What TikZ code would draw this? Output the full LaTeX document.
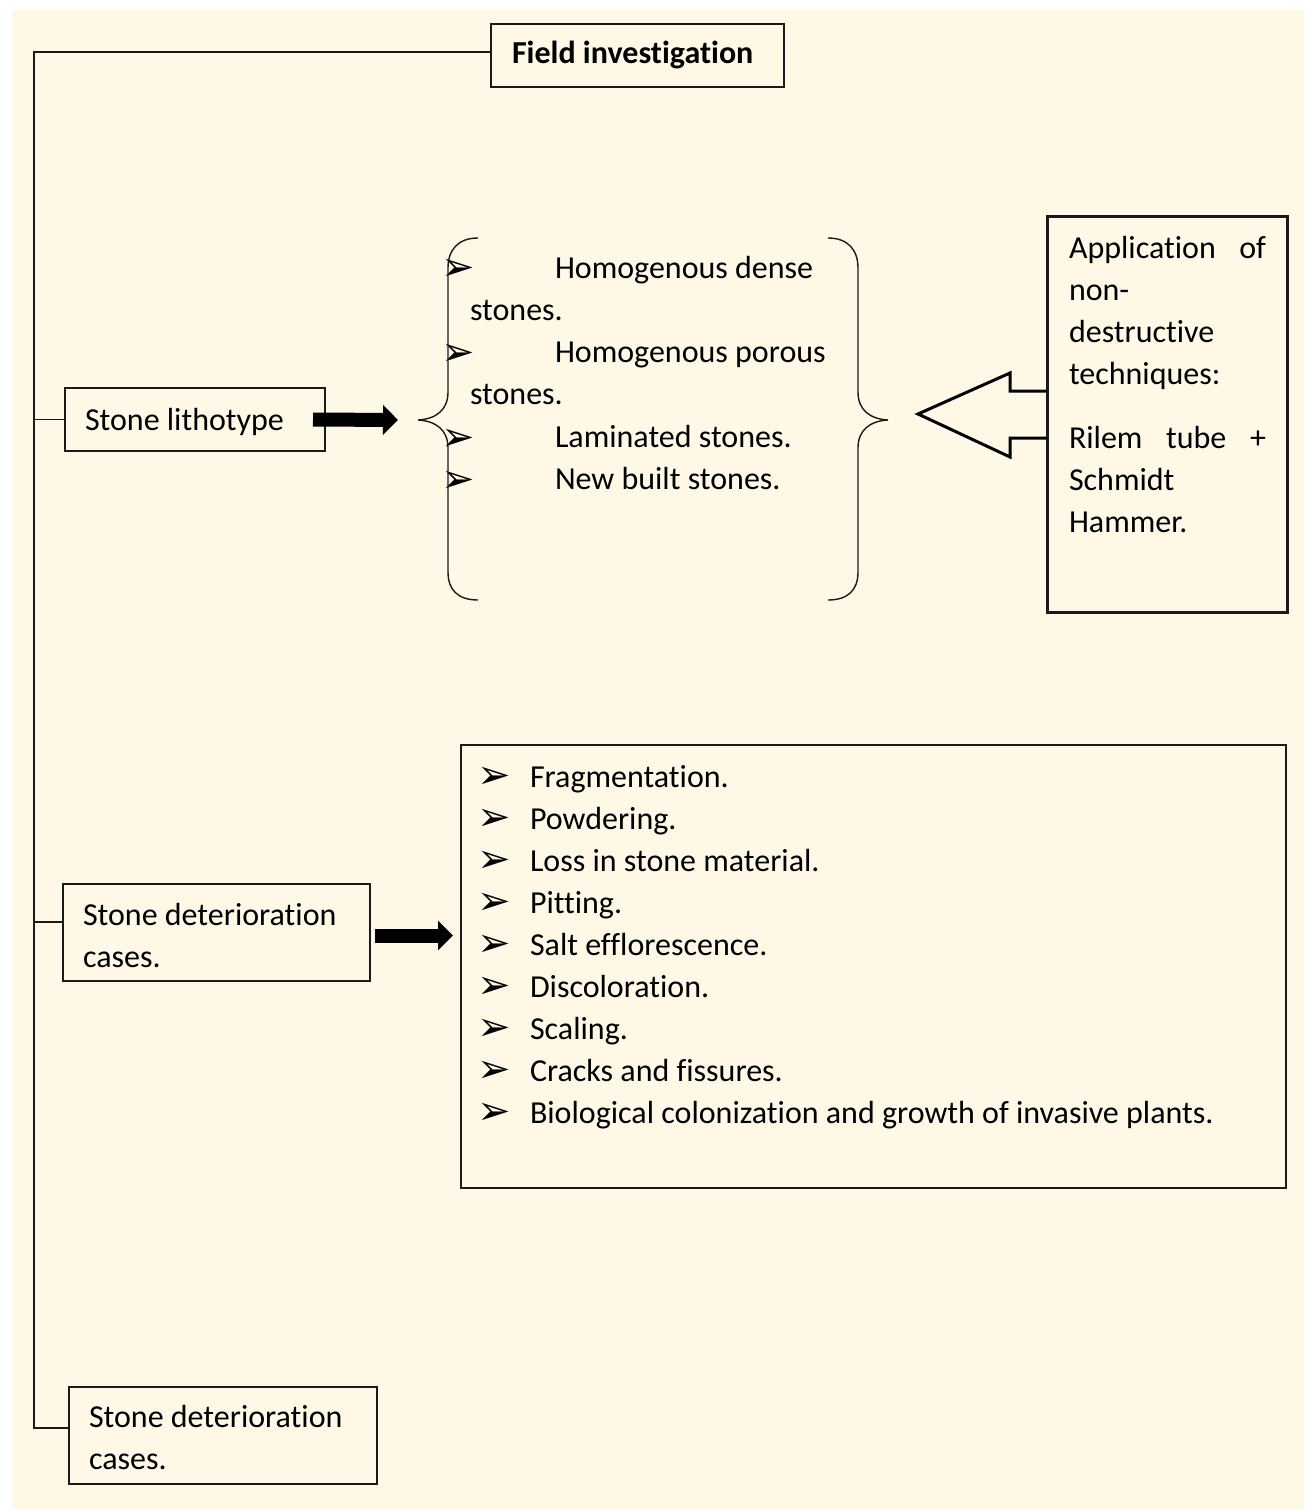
\documentclass[tikz,border=0pt]{standalone}
\usepackage{fontspec}
\setmainfont[Ligatures={NoCommon,NoContextual}, RawFeature={-liga;-clig;-dlig}]{Carlito}
\newfontfamily\dingfont{DejaVu Sans}
\usepackage{tikz}
\usetikzlibrary{arrows.meta, calc, positioning}
\definecolor{paper}{HTML}{FEF8E7}
\definecolor{ink}{HTML}{1A1A1A}
\newcommand{\bul}{{\dingfont\fontsize{40}{40}\selectfont ➢}}

\begin{document}
\begin{tikzpicture}[x=1pt, y=-1pt,
    every node/.style={inner sep=0pt, outer sep=0pt, font=\fontsize{32}{42}\selectfont},
    plainbox/.style={draw=ink, line width=1.4pt, anchor=north west},
    txt/.style={anchor=base west, align=flush left},
    bulletmark/.style={anchor=center},
    conn/.style={draw=ink, line width=1.4pt},
    fatarrow/.style={line width=14pt, -{Triangle[length=15pt, width=29pt]}},
    hollowarrow/.style={draw=black, line width=3pt, line join=miter}
  ]
  \useasboundingbox (0,0) rectangle (1304,1509);
  \fill[paper] (12,10) rectangle (1304,1509);

  % Boxes
  \node[plainbox, minimum width=293, minimum height=63] (field) at (491,24) {};
  \node[plainbox, minimum width=260, minimum height=63] (litho) at (65,388) {};
  \node[plainbox, line width=3pt, minimum width=240, minimum height=396] (app) at (1047,216) {};
  \node[plainbox, minimum width=825, minimum height=443] (list) at (461,745) {};
  \node[plainbox, minimum width=307, minimum height=97] (case1) at (63,884) {};
  \node[plainbox, minimum width=308, minimum height=97] (case2) at (69,1387) {};

  % Texts in the boxes
  \node[txt, font=\fontsize{32}{42}\selectfont\bfseries] (fieldtxt) at (512,64) {Field investigation};
  \node[txt] (lithotxt) at (85,430) {Stone lithotype};
  \node[txt, text width=280] (case1txt) at (83,925) {Stone deterioration\\cases.};
  \node[txt, text width=280] (case2txt) at (89,1427) {Stone deterioration\\cases.};
  \node[txt, text width=197] (apptxt) at (1069,258)
    {Application\hfill of\\non-\\destructive\\techniques:\\[22pt]Rilem\hfill tube\hfill +\\Schmidt\\Hammer.};

  % Stone types between the braces
  \node[txt, text width=370] (dense) at (470,278) {\hspace*{85pt}Homogenous dense\\stones.};
  \node[txt, text width=370] (porous) at (470,362) {\hspace*{85pt}Homogenous porous\\stones.};
  \node[txt] (laminated) at (555,447) {Laminated stones.};
  \node[txt] (newbuilt) at (555,489) {New built stones.};
  \foreach \y [count=\i] in {270,355,440,482}
    \node[bulletmark] (bb\i) at (458,\y) {\bul};

  % Deterioration list
  \foreach \txt [count=\i] in {Fragmentation., Powdering., Loss in stone material.,
      Pitting., Salt efflorescence., Discoloration., Scaling., Cracks and fissures.,
      Biological colonization and growth of invasive plants.} {
    \node[bulletmark] (lb\i) at (494,736+42*\i) {\bul};
    \node[txt] (li\i) at (530,745+42*\i) {\txt};
  }

  % Braces
  \coordinate (bl) at (418,420);
  \coordinate (br) at (888,420);
  \draw[conn] (478,238) .. controls (458,238) and (448,250) .. (448,268) -- (448,392)
    .. controls (448,410) and (436,419) .. (bl) .. controls (436,421) and (448,430) .. (448,448)
    -- (448,572) .. controls (448,590) and (458,600) .. (478,600);
  \draw[conn] (828,238) .. controls (848,238) and (858,250) .. (858,268) -- (858,392)
    .. controls (858,410) and (870,419) .. (br) .. controls (870,421) and (858,430) .. (858,448)
    -- (858,572) .. controls (858,590) and (848,600) .. (828,600);

  % Tree on the left
  \coordinate (trunktop) at (34,52);
  \coordinate (trunkbot) at (34,1428);
  \draw[conn] ($(field.north west)+(0,28)$) -- (trunktop) -- (trunkbot) -- (trunkbot -| case2.west);
  \draw[conn] (trunktop |- litho.west) -- (litho.west);
  \draw[conn] ($(case1.north west)+(0,38)$) coordinate (s1) -- (s1 -| trunktop);

  % Arrows
  \draw[fatarrow] ([xshift=-12pt]litho.east) -- ([xshift=-20pt]bl);
  \draw[fatarrow] ($(case1.east)+(5,3)$) -- ($(case1.east -| list.west)+(-8,3)$);
  \draw[hollowarrow] ($(app.north west)+(0,175)$) -- ++(-37,0) -- ++(0,-18) -- ++(-92,41)
    -- ++(92,43) -- ++(0,-19) -- ++(37,0);
\end{tikzpicture}
\end{document}
